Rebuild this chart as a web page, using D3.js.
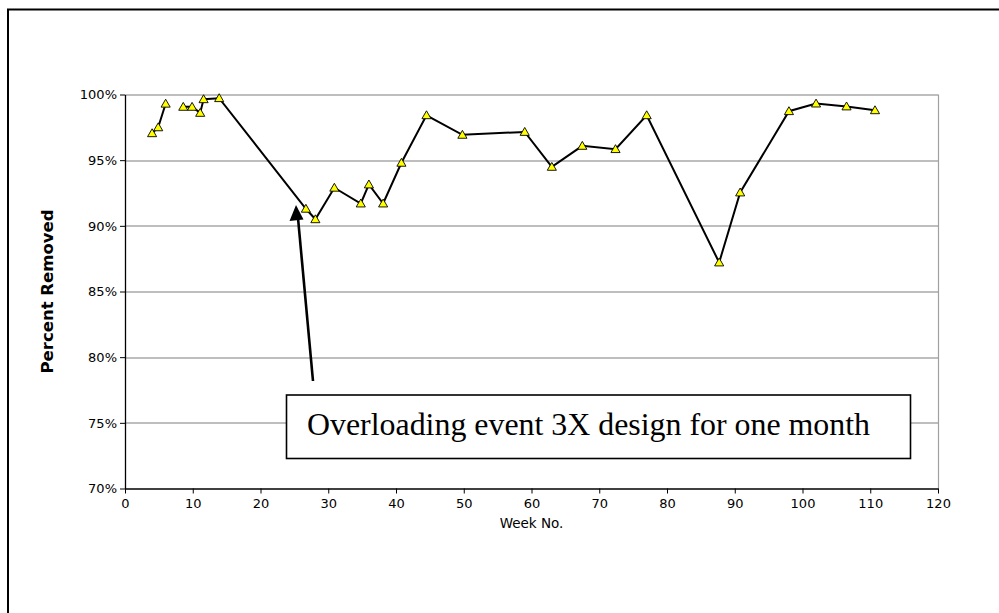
<!DOCTYPE html>
<html>
<head>
<meta charset="utf-8">
<script src="https://cdn.jsdelivr.net/npm/d3@7"></script>
<style>
  body { margin: 0; background: #fff; }
  svg { display: block; }
</style>
</head>
<body>
<svg id="chart" width="999" height="613"></svg>
<script>
// week number and percent removed (null = gap in the line)
const weeks = [4.0, 4.9, 6.0, 7.3, 8.6, 9.9, 11.1, 11.6, 13.9, 26.7, 28.1, 30.9, 34.8, 36.0, 38.1,
  40.8, 44.5, 49.8, 59.0, 63.0, 67.5, 72.4, 77.0, 87.7, 90.8, 98.0, 102.0, 106.5, 110.7];
const removed = [97.05, 97.5, 99.3, null, 99.06, 99.06, 98.6, 99.64, 99.72, 91.3, 90.5, 92.9, 91.7, 93.15, 91.7,
  94.8, 98.42, 96.93, 97.15, 94.49, 96.09, 95.84, 98.42, 87.21, 92.54, 98.73, 99.31, 99.09, 98.8];
const xTicks = [0, 10, 20, 30, 40, 50, 60, 70, 80, 90, 100, 110, 120];
const yTicks = [70, 75, 80, 85, 90, 95, 100];
const noteText = "Overloading event 3X design for one month";

const margin = { top: 94.5, right: 61, bottom: 124.5, left: 125 };
const width = 999 - margin.left - margin.right;
const height = 613 - margin.top - margin.bottom;

const sans = "'DejaVu Sans', Arial, sans-serif";

const data = weeks.map((w, i) => ({ week: w, value: removed[i] }));

const svg = d3.select("#chart");

// outer frame (only top and left edges fall inside the picture)
svg.append("rect")
  .attr("x", 8).attr("y", 9.5)
  .attr("width", 1100).attr("height", 700)
  .attr("fill", "none").attr("stroke", "#000").attr("stroke-width", 2);

const x = d3.scaleLinear().domain([0, 120]).range([0, width]);
const y = d3.scaleLinear().domain([70, 100]).range([height, 0]);

const g = svg.append("g").attr("transform", `translate(${margin.left},${margin.top})`);

// gridlines
g.append("g")
  .selectAll("line")
  .data(yTicks.filter((d) => d > 70))
  .join("line")
  .attr("x1", 0).attr("x2", width)
  .attr("y1", (d) => Math.round(y(d)) + 0.5).attr("y2", (d) => Math.round(y(d)) + 0.5)
  .attr("stroke", "#7f7f7f").attr("stroke-width", 1.2);

// right plot border
g.append("line")
  .attr("x1", width + 0.5).attr("x2", width + 0.5)
  .attr("y1", 0).attr("y2", height)
  .attr("stroke", "#a0a0a0").attr("stroke-width", 1.2);

// axes
const xAxis = g.append("g")
  .attr("transform", `translate(0,${height})`)
  .call(d3.axisBottom(x).tickValues(xTicks).tickSize(5).tickSizeOuter(0).tickPadding(5));
const yAxis = g.append("g")
  .call(d3.axisLeft(y).tickValues(yTicks).tickSize(5).tickSizeOuter(0).tickPadding(3)
    .tickFormat((d) => d + "%"));

[xAxis, yAxis].forEach((ax) => {
  ax.selectAll("text").attr("font-family", sans)
    .attr("font-size", 13).attr("fill", "#000");
  ax.select(".domain").attr("stroke", "#000").attr("stroke-width", 1.3);
  ax.selectAll(".tick line").attr("stroke", "#000");
});

// axis titles
svg.append("text")
  .attr("x", margin.left + x(60)).attr("y", 528)
  .attr("text-anchor", "middle")
  .attr("font-family", sans).attr("font-size", 13.5)
  .text("Week No.");

svg.append("text")
  .attr("transform", `translate(53,${margin.top + y(85)}) rotate(-90)`)
  .attr("text-anchor", "middle")
  .attr("font-family", sans).attr("font-size", 16.5)
  .attr("font-weight", "bold")
  .text("Percent Removed");

// series line
const line = d3.line()
  .defined((d) => d.value !== null)
  .x((d) => x(d.week))
  .y((d) => y(d.value));

g.append("path")
  .datum(data)
  .attr("fill", "none")
  .attr("stroke", "#000")
  .attr("stroke-width", 2)
  .attr("d", line);

// triangle markers
const tri = d3.symbol().type(d3.symbolTriangle).size(36);
g.append("g")
  .selectAll("path")
  .data(data.filter((d) => d.value !== null))
  .join("path")
  .attr("transform", (d) => `translate(${x(d.week)},${y(d.value) + 0.8})`)
  .attr("d", tri)
  .attr("fill", "#ffff00")
  .attr("stroke", "#000")
  .attr("stroke-width", 0.9);

// annotation arrow
svg.append("line")
  .attr("x1", 313).attr("y1", 381)
  .attr("x2", 298).attr("y2", 218)
  .attr("stroke", "#000").attr("stroke-width", 2.6);
svg.append("path")
  .attr("d", "M296,205 L289.5,221 L303.5,219.5 Z")
  .attr("fill", "#000");

// annotation box
svg.append("rect")
  .attr("x", 286.5).attr("y", 395)
  .attr("width", 624).attr("height", 63.5)
  .attr("fill", "#fff").attr("stroke", "#000").attr("stroke-width", 1.6);
svg.append("text")
  .attr("x", 307).attr("y", 435)
  .attr("font-family", "'Times New Roman', 'Liberation Serif', serif")
  .attr("font-size", 31)
  .attr("textLength", 563)
  .attr("lengthAdjust", "spacingAndGlyphs")
  .text(noteText);
</script>
</body>
</html>
